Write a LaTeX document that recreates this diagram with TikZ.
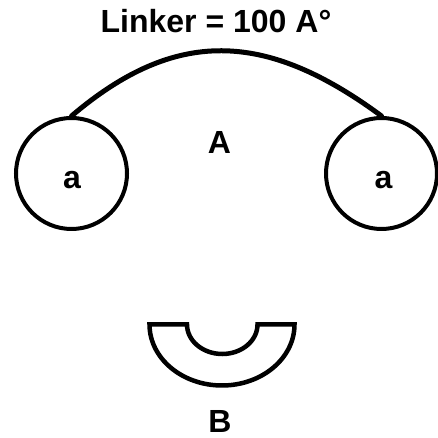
\documentclass[tikz,border=0pt]{standalone}
\usepackage{fontspec}
\setmainfont{Liberation Sans}
\usetikzlibrary{positioning,calc}
\definecolor{INK}{HTML}{000000}

\begin{document}
\begin{tikzpicture}[x=1pt,y=1pt,
    atom/.style={circle, draw=INK, line width=4pt, minimum size=111pt, inner sep=0pt},
    lbl/.style={font=\fontsize{32}{38}\selectfont\bfseries, text=INK, inner sep=0pt}]
  \useasboundingbox (0,0) rectangle (437,438);
  % title
  \node[lbl] (title) at (216,416.5) {Linker = 100 A°};
  % the two ends
  \node[atom] (lc) at (71.5,264.5) {};
  \node[atom] (rc) at (381.5,264.5) {};
  \node[lbl] (la) at (72,258) {a};
  \node[lbl] (ra) at (383.5,258) {a};
  \node[lbl] (mA) at (219.5,295.5) {A};
  % linker
  \draw[INK, line width=5pt, line cap=round]
    (lc.north) .. controls (175,410) and (265,408) .. (rc.north);
  % half ring
  \draw[INK, line width=4.5pt]
    (149.5,113.5) -- (187,113.5)
    arc[start angle=180, end angle=360, x radius=35.25pt, y radius=29.5pt]
    -- (294.5,113.5)
    arc[start angle=0, end angle=-180, x radius=72.5pt, y radius=61pt] -- cycle;
  \node[lbl] (mB) at (220,16.5) {B};
\end{tikzpicture}
\end{document}
